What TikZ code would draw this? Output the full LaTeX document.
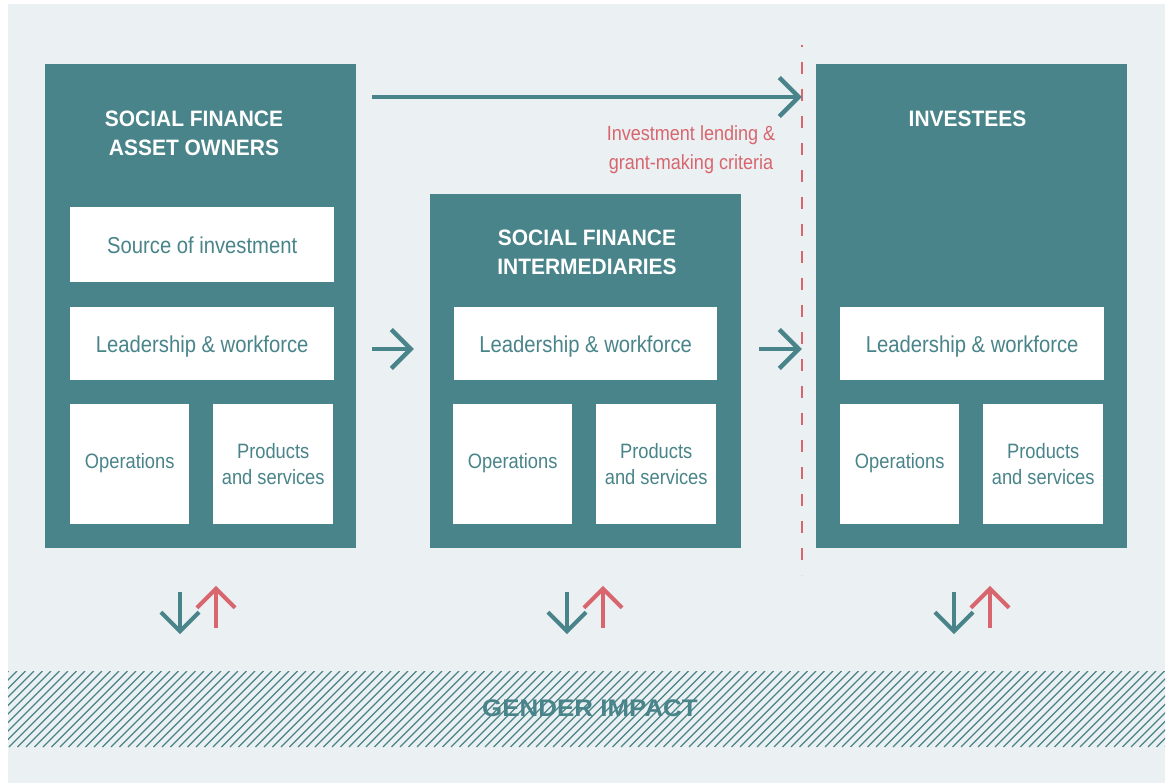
\documentclass[tikz,border=0pt]{standalone}
\usepackage{fontspec}
\setmainfont{Liberation Sans}
\newfontfamily\regf{Liberation Sans}[FakeStretch=0.88]
\newfontfamily\headf{Liberation Sans}[FakeStretch=0.94]
\newfontfamily\gendf{Liberation Sans}[FakeStretch=1.08]
\usetikzlibrary{arrows.meta}
\definecolor{tealc}{RGB}{72,132,137}
\definecolor{redc}{RGB}{216,102,110}
\definecolor{bgc}{RGB}{235,240,243}
\begin{document}
\begin{tikzpicture}[x=1pt,y=-1pt,
  bigbox/.style={fill=tealc, inner sep=0pt, anchor=north west},
  wbox/.style={fill=white, inner sep=0pt, anchor=north west, text=tealc,
    font=\regf\fontsize{23}{26}\selectfont, align=center},
  sbox/.style={wbox, font=\regf\fontsize{20.8}{26}\selectfont},
  oneline/.style={text height=17pt, text depth=0pt},
  opline/.style={text height=8pt, text depth=0pt},
  heading/.style={text=white, align=center, inner sep=0pt,
    font=\headf\bfseries\fontsize{22.3}{29}\selectfont},
  flowline/.style={draw=tealc, line width=4.5pt, line join=miter, miter limit=10},
  downline/.style={draw=tealc, line width=4pt, line join=miter, miter limit=10},
  upline/.style={draw=redc, line width=4pt, line join=miter, miter limit=10}
]
\useasboundingbox (0,0) rectangle (1170,783);
\fill[bgc] (8,4) rectangle (1165,783);

% hatch band
\begin{scope}
  \clip (8,671) rectangle (1165,747);
  \foreach \i in {0,...,150}
    \draw[tealc, line width=1.2pt] ({-76+\i*8.5},747) -- ({\i*8.5},671);
\end{scope}
\node[text=tealc, inner sep=0pt, font=\gendf\bfseries\fontsize{24}{28}\selectfont] (gi) at (590,708.5) {GENDER IMPACT};

% big boxes
\node[bigbox, minimum width=311pt, minimum height=484pt] (own) at (45,64) {};
\node[bigbox, minimum width=311pt, minimum height=354pt] (inter) at (430,194) {};
\node[bigbox, minimum width=311pt, minimum height=484pt] (inv) at (816,64) {};

% headings
\node[heading] (h1) at (194,133.5) {SOCIAL FINANCE\\ASSET OWNERS};
\node[heading] (h2) at (587,252) {SOCIAL FINANCE\\INTERMEDIARIES};
\node[heading] (h3) at (967.5,119) {INVESTEES};

% inner boxes: asset owners
\node[wbox, oneline, minimum width=264pt, minimum height=75pt] (src) at (70,207) {Source of investment};
\node[wbox, oneline, minimum width=264pt, minimum height=73pt] (lw1) at (70,307) {Leadership \& workforce};
\node[sbox, opline, minimum width=119pt, minimum height=120pt] (op1) at (70,404) {Operations};
\node[sbox, minimum width=120pt, minimum height=120pt] (pr1) at (213,404) {Products\\and services};

% inner boxes: intermediaries
\node[wbox, oneline, minimum width=263pt, minimum height=73pt] (lw2) at (454,307) {Leadership \& workforce};
\node[sbox, opline, minimum width=119pt, minimum height=120pt] (op2) at (453,404) {Operations};
\node[sbox, minimum width=120pt, minimum height=120pt] (pr2) at (596,404) {Products\\and services};

% inner boxes: investees
\node[wbox, oneline, minimum width=264pt, minimum height=73pt] (lw3) at (840,307) {Leadership \& workforce};
\node[sbox, opline, minimum width=119pt, minimum height=120pt] (op3) at (840,404) {Operations};
\node[sbox, minimum width=120pt, minimum height=120pt] (pr3) at (983,404) {Products\\and services};

% dashed boundary
\coordinate (dtop) at (802,45);
\coordinate (dbot) at (802,575);
\draw[redc, line width=2pt, dash pattern=on 12pt off 15pt, dash phase=10pt] (dtop) -- (dbot);

% criteria label
\node[text=redc, align=center, inner sep=0pt, font=\regf\fontsize{20.5}{29}\selectfont] (crit) at (691,149.5) {Investment lending \&\\grant-making criteria};

% flow arrows (shaft + chevron head)
\coordinate (ta) at (372,97);
\coordinate (tb) at (798.8,97);
\draw[flowline] (ta) -- (tb);
\draw[flowline] ([shift={(-19.5,-19.5)}]tb) -- (tb) -- ([shift={(-19.5,19.5)}]tb);
\coordinate (ma) at (372,349);
\coordinate (mb) at (410.8,349);
\draw[flowline] (ma) -- (mb);
\draw[flowline] ([shift={(-19.5,-19.5)}]mb) -- (mb) -- ([shift={(-19.5,19.5)}]mb);
\coordinate (na) at (759,349);
\coordinate (nb) at (798.8,349);
\draw[flowline] (na) -- (nb);
\draw[flowline] ([shift={(-19.5,-19.5)}]nb) -- (nb) -- ([shift={(-19.5,19.5)}]nb);

% impact arrows
\foreach \n/\c in {1/198,2/585,3/972} {
  \coordinate (d\n a) at ({\c-18},592);
  \coordinate (d\n b) at ({\c-18},631.2);
  \coordinate (u\n a) at ({\c+18},628);
  \coordinate (u\n b) at ({\c+18},588.8);
  \draw[downline] (d\n a) -- (d\n b);
  \draw[downline] ([shift={(-19,-19)}]d\n b) -- (d\n b) -- ([shift={(19,-19)}]d\n b);
  \draw[upline] (u\n a) -- (u\n b);
  \draw[upline] ([shift={(-19,19)}]u\n b) -- (u\n b) -- ([shift={(19,19)}]u\n b);
}
\end{tikzpicture}
\end{document}
